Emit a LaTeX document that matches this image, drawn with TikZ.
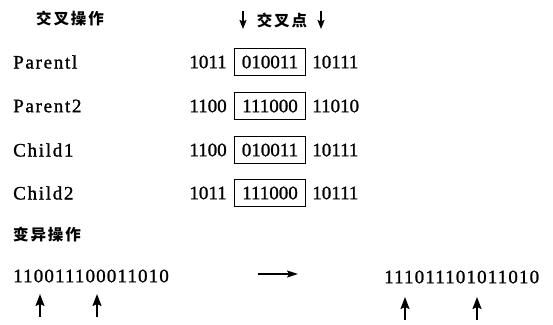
\documentclass[tikz,border=0pt]{standalone}
\usepackage{fontspec}
\setmainfont[FakeBold=1.2]{Liberation Serif}
\newfontfamily\cjk[LetterSpace=12]{Noto Sans CJK SC}
\usetikzlibrary{arrows.meta}
\tikzset{
  heading/.style={font=\fontsize{15.5}{15.5}\selectfont\cjk\bfseries, inner sep=0pt},
  label/.style={font=\fontsize{19}{19}\selectfont\addfontfeature{LetterSpace=9}, inner sep=0pt, anchor=west},
  bits/.style={font=\fontsize{19}{19}\selectfont, inner sep=0pt},
  bitbox/.style={bits, draw, line width=1.2pt, minimum width=71pt, minimum height=27pt},
  longbits/.style={font=\fontsize{19}{19}\selectfont\addfontfeature{LetterSpace=6}, inner sep=0pt, anchor=west},
  uparrow/.style={line width=1.6pt, -{Stealth[length=12pt,width=9pt,inset=2pt]}},
  downarrow/.style={line width=1.4pt, -{Stealth[length=9pt,width=7pt,inset=1.5pt]}},
  sidearrow/.style={line width=1.5pt, -{Stealth[length=11pt,width=7pt,inset=2pt]}},
}
\begin{document}
\begin{tikzpicture}[x=1pt,y=-1pt]
  \useasboundingbox (0,0) rectangle (553,324);

  % crossover
  \node[heading, anchor=west] (xhead) at (36,19) {交叉操作};
  \node[heading] (xpoint) at (282,20) {交叉点};
  \coordinate (al0) at (243,11); \coordinate (al1) at (243,29);
  \coordinate (ar0) at (321,11); \coordinate (ar1) at (321,29);
  \draw[downarrow] (al0) -- (al1);
  \draw[downarrow] (ar0) -- (ar1);

  \foreach \n/\lab/\l/\m/\r/\y in {
      p1/Parentl/1011/010011/10111/62,
      p2/Parent2/1100/111000/11010/106,
      c1/Child1/1100/010011/10111/150,
      c2/Child2/1011/111000/10111/193} {
    \node[label] (\n name) at (13,\y) {\lab};
    \node[bitbox] (\n mid) at (270,\y) {\m};
    \node[bits, anchor=east] (\n left) at ([xshift=-7pt]\n mid.west) {\l};
    \node[bits, anchor=west] (\n right) at ([xshift=6pt]\n mid.east) {\r};
  }

  % mutation
  \node[heading, anchor=west] (mhead) at (13,235) {变异操作};
  \node[longbits] (before) at (13,276) {110011100011010};
  \node[longbits] (after) at (384,277) {111011101011010};
  \coordinate (m0) at (258,274); \coordinate (m1) at (298,274);
  \draw[sidearrow] (m0) -- (m1);

  \coordinate (b1a) at (40,317); \coordinate (b1b) at (40,294);
  \coordinate (b2a) at (97,317); \coordinate (b2b) at (97,294);
  \coordinate (a1a) at (405,320); \coordinate (a1b) at (405,297);
  \coordinate (a2a) at (477,320); \coordinate (a2b) at (477,297);
  \draw[uparrow] (b1a) -- (b1b);
  \draw[uparrow] (b2a) -- (b2b);
  \draw[uparrow] (a1a) -- (a1b);
  \draw[uparrow] (a2a) -- (a2b);
\end{tikzpicture}
\end{document}
